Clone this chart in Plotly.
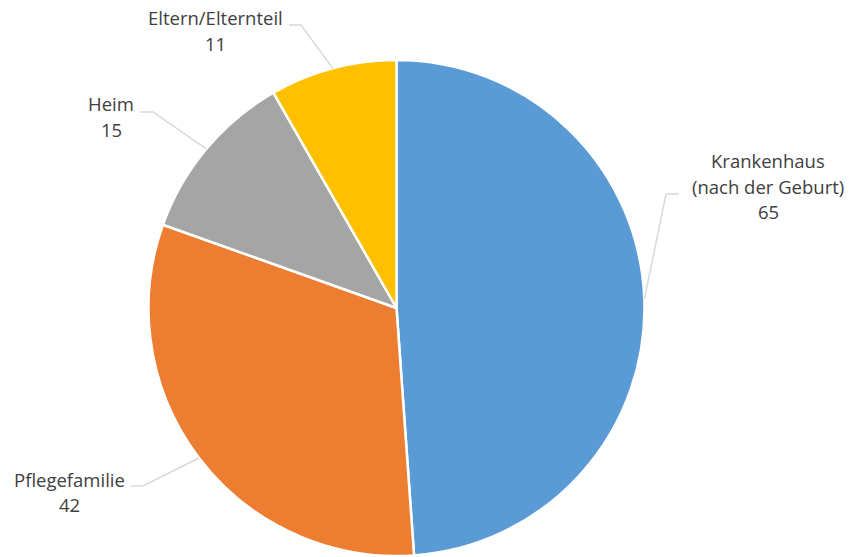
import math
import plotly.graph_objects as go

# ---- data ----
categories = ["Krankenhaus<br>(nach der Geburt)", "Pflegefamilie", "Heim", "Eltern/Elternteil"]
values = [65, 42, 15, 11]
colors = ["#5B9BD5", "#ED7D31", "#A5A5A5", "#FFC000"]

# ---- layout (pixels) ----
W, H = 850, 557
CX, CY, R = 396.5, 308.0, 248.0
# label layout: (elbow x, elbow y, line end x, text center x, first line y)
label_layout = [
    (666, 194, 679, 768, 161),
    (143, 486, 131, 69, 479),
    (153, 112, 140, 111, 104),
    (301, 25, 289, 215, 18),
]
LINE_H = 25

def px(x):
    return x / W

def py(y):
    return 1 - y / H

fig = go.Figure(go.Pie(
    labels=[c.replace("<br>", " ") for c in categories],
    values=values,
    sort=False,
    direction="clockwise",
    rotation=0,
    marker=dict(colors=colors, line=dict(color="white", width=2.5)),
    textinfo="none",
    hoverinfo="label+value",
    showlegend=False,
    domain=dict(x=[px(CX - R), px(CX + R)], y=[py(CY + R), py(CY - R)]),
))

total = sum(values)
cum = 0
annotations = []
shapes = []
for cat, v, lay in zip(categories, values, label_layout):
    mid = (cum + v / 2) / total * 2 * math.pi
    cum += v
    sx = CX + R * math.sin(mid)
    sy = CY - R * math.cos(mid)
    ex, ey, lx, tx, ty = lay
    shapes.append(dict(
        type="path", xref="paper", yref="paper",
        path=f"M {px(sx)} {py(sy)} L {px(ex)} {py(ey)} L {px(lx)} {py(ey)}",
        line=dict(color="#D9D9D9", width=1.5),
    ))
    lines = cat.split("<br>") + [str(v)]
    for i, t in enumerate(lines):
        annotations.append(dict(
            text=t, x=px(tx), y=py(ty + i * LINE_H), xref="paper", yref="paper",
            xanchor="center", yanchor="middle", showarrow=False,
            font=dict(family="Open Sans", size=18.5, color="#404040"),
        ))

fig.update_layout(
    width=W, height=H,
    margin=dict(l=0, r=0, t=0, b=0),
    paper_bgcolor="white",
    plot_bgcolor="white",
    annotations=annotations,
    shapes=shapes,
)

fig.write_html("out.html", config={"displayModeBar": False},
               post_script="document.body.style.margin='0';")
